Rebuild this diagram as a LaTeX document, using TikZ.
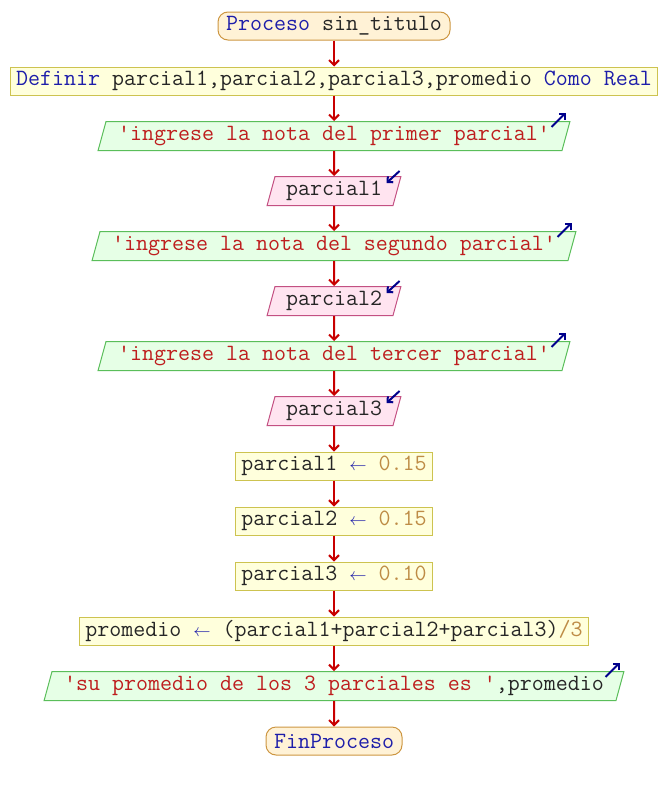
\documentclass[tikz,border=0pt]{standalone}
\usepackage{fontspec}
\usetikzlibrary{shapes,arrows.meta}
\definecolor{termfill}{RGB}{255,242,214}
\definecolor{termline}{RGB}{205,150,65}
\definecolor{procfill}{RGB}{255,255,220}
\definecolor{procline}{RGB}{205,195,80}
\definecolor{outfill}{RGB}{230,255,230}
\definecolor{outline}{RGB}{90,190,90}
\definecolor{infill}{RGB}{255,228,240}
\definecolor{inline}{RGB}{195,80,130}
\definecolor{kwblue}{RGB}{30,30,170}
\definecolor{strred}{RGB}{190,30,30}
\definecolor{numtan}{RGB}{190,140,70}
\definecolor{flowred}{RGB}{200,0,0}
\definecolor{iconblue}{RGB}{0,0,140}
\newcommand{\kw}[1]{\textcolor{kwblue}{#1}}
\newcommand{\pstr}[1]{\textcolor{strred}{#1}}
\newcommand{\cnum}[1]{\textcolor{numtan}{#1}}
\newcommand{\asg}{\textcolor{kwblue}{\fontsize{17}{20}\selectfont$\leftarrow$}}
\tikzstyle{code} = [font=\ttfamily\fontsize{23.3}{26}\selectfont, text=black!85, line width=1pt]
\tikzstyle{terminal} = [code, rectangle, rounded corners=10pt, draw=termline, fill=termfill, minimum height=28pt, inner xsep=8pt, inner ysep=1pt]
\tikzstyle{process} = [code, rectangle, draw=procline, fill=procfill, minimum height=28pt, inner xsep=6pt, inner ysep=1pt]
\tikzstyle{output} = [code, trapezium, trapezium left angle=70, trapezium right angle=110, trapezium stretches=true, draw=outline, fill=outfill, minimum height=29pt, inner xsep=12pt, inner ysep=1pt]
\tikzstyle{input} = [code, trapezium, trapezium left angle=70, trapezium right angle=110, trapezium stretches=true, draw=inline, fill=infill, minimum height=29pt, inner xsep=11pt, inner ysep=1pt]
\tikzstyle{arrow} = [flowred, line width=2pt, -{Straight Barb[length=5pt,width=10pt]}]
\tikzstyle{icon} = [iconblue, line width=2pt, -{Straight Barb[length=4pt,width=8pt]}]
\begin{document}
\begin{tikzpicture}[x=1pt, y=-1pt, node distance=55pt]
    \useasboundingbox (0,0) rectangle (668,790);
    % Place nodes
    \node [terminal] at (334,26) (start) {\kw{Proceso} sin\_titulo};
    \node [process, below of=start] (def) {\kw{Definir} parcial1,parcial2,parcial3,promedio \kw{Como Real}};
    \node [output, below of=def] (out1) {\pstr{'ingrese la nota del primer parcial'}};
    \node [input, below of=out1] (in1) {parcial1};
    \node [output, below of=in1] (out2) {\pstr{'ingrese la nota del segundo parcial'}};
    \node [input, below of=out2] (in2) {parcial2};
    \node [output, below of=in2] (out3) {\pstr{'ingrese la nota del tercer parcial'}};
    \node [input, below of=out3] (in3) {parcial3};
    \node [process, below of=in3] (asg1) {parcial1 \asg{} \cnum{0.15}};
    \node [process, below of=asg1] (asg2) {parcial2 \asg{} \cnum{0.15}};
    \node [process, below of=asg2] (asg3) {parcial3 \asg{} \cnum{0.10}};
    \node [process, below of=asg3] (prom) {promedio \asg{} (parcial1+parcial2+parcial3)\cnum{/3}};
    \node [output, below of=prom] (out4) {\pstr{'su promedio de los 3 parciales es '},promedio};
    \node [terminal, below of=out4] (stop) {\kw{FinProceso}};

    % Draw edges
    \draw [arrow] (start) -- (def);
    \draw [arrow] (def) -- (out1);
    \draw [arrow] (out1) -- (in1);
    \draw [arrow] (in1) -- (out2);
    \draw [arrow] (out2) -- (in2);
    \draw [arrow] (in2) -- (out3);
    \draw [arrow] (out3) -- (in3);
    \draw [arrow] (in3) -- (asg1);
    \draw [arrow] (asg1) -- (asg2);
    \draw [arrow] (asg2) -- (asg3);
    \draw [arrow] (asg3) -- (prom);
    \draw [arrow] (prom) -- (out4);
    \draw [arrow] (out4) -- (stop);

    % In/out marks
    \foreach \n in {out1,out2,out3,out4}
        \draw [icon] ([shift={(-19,6)}]\n.top right corner) -- ++(14,-14);
    \foreach \n in {in1,in2,in3}
        \draw [icon] ([shift={(-2,-5)}]\n.top right corner) -- ++(-13,12);
\end{tikzpicture}
\end{document}
